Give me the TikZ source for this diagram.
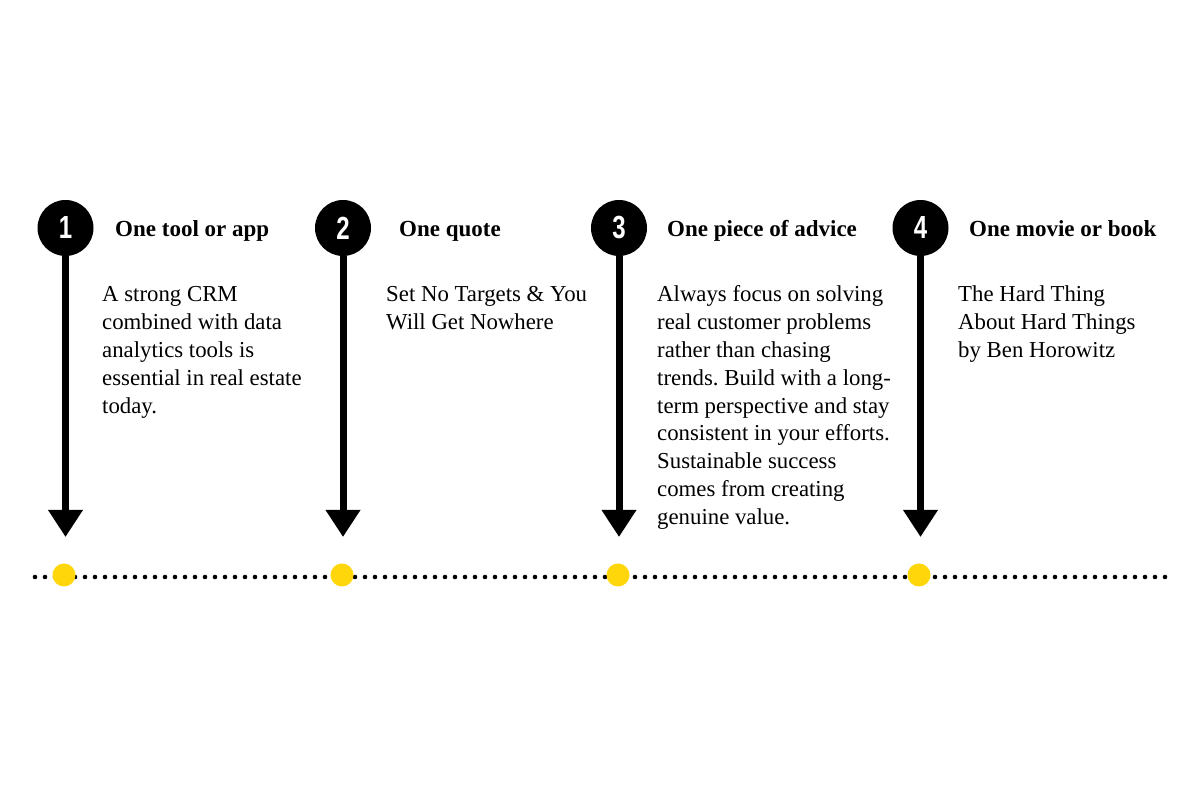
\documentclass[tikz,border=0pt]{standalone}
\usepackage{fontspec}
\setmainfont{Liberation Serif}
\newfontfamily\numfont{Liberation Sans}
\usetikzlibrary{arrows.meta}
\definecolor{dotyellow}{HTML}{FFD60A}
\frenchspacing
\newcommand{\bodytext}[1]{\begin{tabular}[t]{@{}l@{}}#1\end{tabular}}
\tikzset{
  numcirc/.style={circle, fill=black, minimum size=56pt, inner sep=0pt, text=white,
    font=\numfont\bfseries\fontsize{32}{32}\selectfont},
  shaft/.style={line width=7pt, -{Triangle[width=33pt,length=27pt]}},
  ydot/.style={circle, fill=dotyellow, minimum size=23pt, inner sep=0pt},
  title/.style={anchor=base west, inner sep=0pt, font=\bfseries\fontsize{23}{28}\selectfont},
  body/.style={anchor=base west, inner sep=0pt, font=\fontsize{22.8}{27.8}\selectfont}
}
\begin{document}
\begin{tikzpicture}[x=1pt,y=1pt]
\useasboundingbox[fill=white] (0,0) rectangle (1200,800);
% dotted line
\coordinate (dl) at (35,223);
\coordinate (dr) at (1166,223);
\draw[line width=4.6pt, line cap=round, dash pattern=on 0pt off 10pt] (dl) -- (dr);
% yellow dots
\node[ydot] (y1) at (64,225) {};
\node[ydot] (y2) at (342,225) {};
\node[ydot] (y3) at (618,225) {};
\node[ydot] (y4) at (919,225) {};
% number circles
\node[numcirc] (c1) at (65.5,572) {\scalebox{0.75}[1]{1}};
\node[numcirc] (c2) at (343,572) {\scalebox{0.75}[1]{2}};
\node[numcirc] (c3) at (619,572) {\scalebox{0.75}[1]{3}};
\node[numcirc] (c4) at (920.5,572) {\scalebox{0.75}[1]{4}};
% arrow tips
\coordinate (t1) at (65.5,263);
\coordinate (t2) at (343,263);
\coordinate (t3) at (619,263);
\coordinate (t4) at (920.5,263);
\draw[shaft] (c1.south) -- (t1);
\draw[shaft] (c2.south) -- (t2);
\draw[shaft] (c3.south) -- (t3);
\draw[shaft] (c4.south) -- (t4);
% titles
\node[title] (h1) at (115,563) {One tool or app};
\node[title] (h2) at (399,563) {One quote};
\node[title] (h3) at (667,563) {One piece of advice};
\node[title] (h4) at (969,563) {One movie or book};
% bodies
\node[body] (b1) at (102,498) {\bodytext{A strong CRM\\combined with data\\analytics tools is\\essential in real estate\\today.}};
\node[body] (b2) at (386,498) {\bodytext{Set No Targets \& You\\Will Get Nowhere}};
\node[body] (b3) at (657,498) {\bodytext{Always focus on solving\\real customer problems\\rather than chasing\\trends. Build with a long-\\term perspective and stay\\consistent in your efforts.\\Sustainable success\\comes from creating\\genuine value.}};
\node[body] (b4) at (958,498) {\bodytext{The Hard Thing\\About Hard Things\\by Ben Horowitz}};
\end{tikzpicture}
\end{document}
